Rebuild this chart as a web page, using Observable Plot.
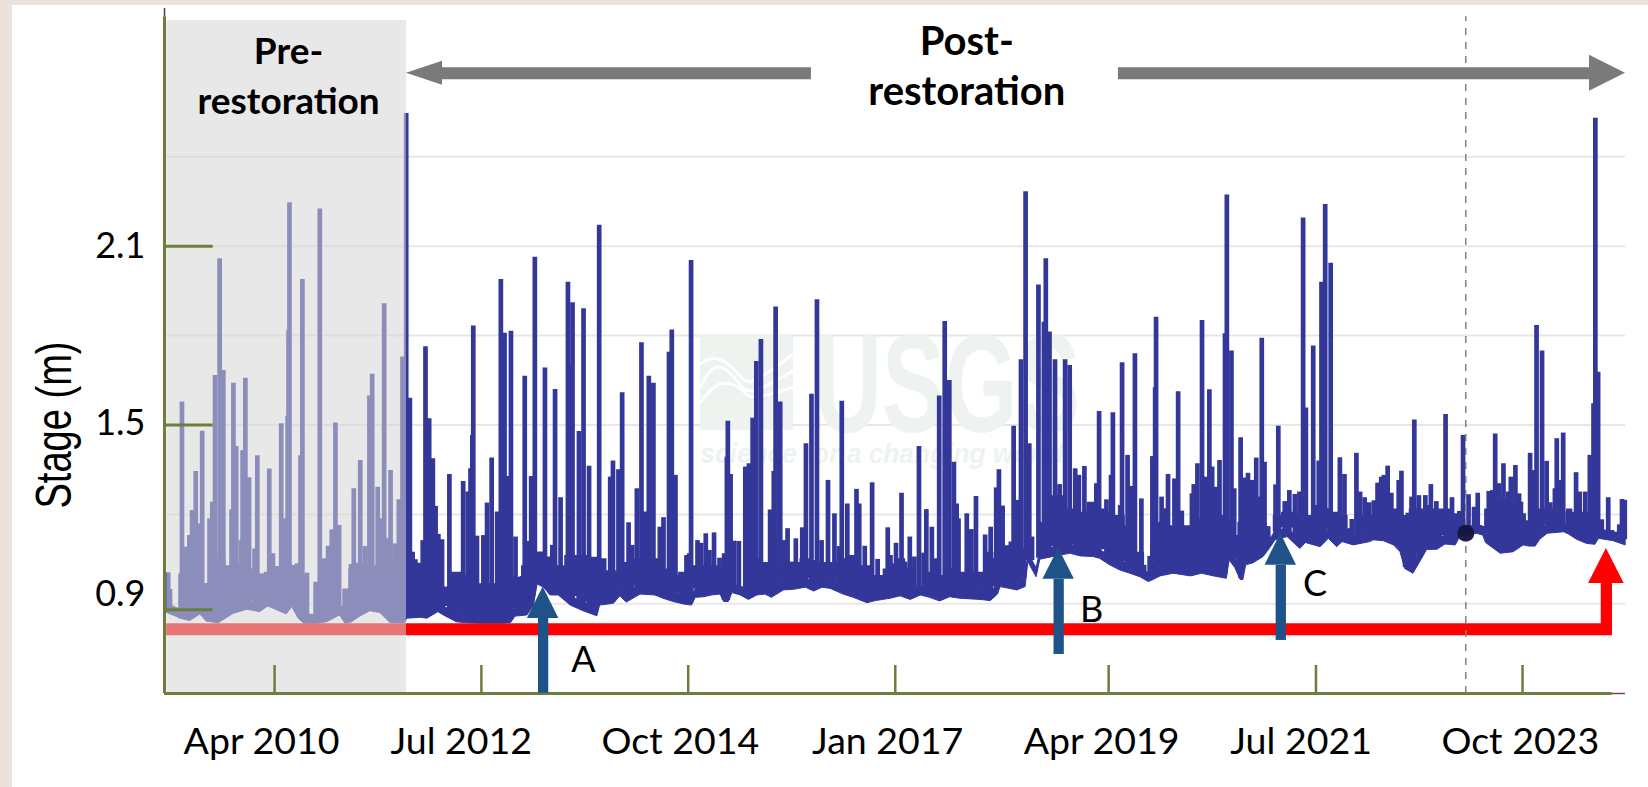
<!DOCTYPE html>
<html>
<head>
<meta charset="utf-8">
<script src="https://cdn.jsdelivr.net/npm/d3@7"></script>
<script src="https://cdn.jsdelivr.net/npm/@observablehq/plot@0.6"></script>
<style>
html,body{margin:0;padding:0;width:1648px;height:787px;overflow:hidden;background:#ebe2d9}
#panel{position:absolute;left:12px;top:5px;right:0;bottom:0;background:#fff}
#chart{position:absolute;left:0;top:0}
svg{display:block}
</style>
</head>
<body>
<div id="panel"></div>
<div id="chart"></div>
<script>
// Spike peaks: [decimal year, stage in metres]
const spikes2009 = [[2009.09,1.004],[2009.11,.948],[2009.24,1.577],[2009.28,1.090],[2009.32,1.129],[2009.35,1.213],[2009.39,1.344],[2009.43,1.168],[2009.46,1.479],[2009.50,.967],[2009.54,1.185],[2009.57,1.241],[2009.60,1.666],[2009.65,2.058],[2009.69,1.683],[2009.73,1.003],[2009.78,1.215],[2009.80,1.640],[2009.83,1.428],[2009.88,1.112],[2009.90,1.414],[2009.93,1.657],[2009.97,1.323],[2010.03,1.084],[2010.06,1.397],[2010.11,.947],[2010.15,.967],[2010.19,1.352],[2010.23,1.068],[2010.27,1.025],[2010.32,1.504],[2010.36,1.185],[2010.39,1.529],[2010.40,1.817],[2010.41,2.246],[2010.46,1.029],[2010.50,.989],[2010.53,1.397],[2010.55,1.988],[2010.60,1.003],[2010.70,.939],[2010.74,2.225],[2010.78,1.036],[2010.83,1.093],[2010.87,1.148],[2010.91,1.507],[2010.95,1.163],[2011.04,.909],[2011.08,1.032],[2011.11,1.286],[2011.15,1.036],[2011.18,1.381],[2011.23,1.092],[2011.28,1.597],[2011.31,1.670],[2011.37,1.291],[2011.40,1.185],[2011.44,1.907],[2011.47,1.120],[2011.51,1.347],[2011.56,1.101],[2011.60,1.249],[2011.64,1.728]];
const spikes2011 = [[2011.68,2.545],[2011.72,1.590],[2011.75,1.073],[2011.78,1.048],[2011.82,1.036],[2011.86,1.112],[2011.89,1.763],[2011.93,1.521],[2011.97,1.387],[2012.00,1.227],[2012.03,1.133],[2012.07,1.115],[2012.15,1.334],[2012.20,.989],[2012.24,.995],[2012.30,1.310],[2012.35,1.275],[2012.38,1.353],[2012.40,1.465],[2012.41,1.832],[2012.45,1.127],[2012.49,.920],[2012.52,1.129],[2012.56,1.238],[2012.61,1.389],[2012.67,1.208],[2012.71,1.988],[2012.75,1.808],[2012.79,1.327],[2012.82,1.815],[2012.87,1.124],[2012.91,.942],[2012.94,.992],[2012.97,1.664],[2013.00,1.109],[2013.04,1.327],[2013.08,2.063],[2013.12,1.073],[2013.15,1.073],[2013.19,1.691],[2013.23,1.057],[2013.27,1.096],[2013.30,1.619],[2013.36,1.256],[2013.40,1.017],[2013.44,1.979],[2013.48,1.700],[2013.49,1.910],[2013.56,1.478],[2013.61,1.890],[2013.67,1.362],[2013.72,1.054],[2013.78,2.170],[2013.82,1.006],[2013.84,.998],[2013.87,.961],[2013.90,1.325],[2013.93,1.379],[2013.99,1.350],[2014.03,1.608],[2014.10,1.172],[2014.14,1.096],[2014.19,1.286],[2014.24,1.776],[2014.28,1.208],[2014.32,1.664]];
const spikes2014 = [[2014.37,1.640],[2014.40,1.012],[2014.44,1.157],[2014.48,1.189],[2014.52,.984],[2014.54,1.744],[2014.57,1.819],[2014.61,1.331],[2014.69,.976],[2014.73,1.062],[2014.76,1.068],[2014.78,2.052],[2014.85,1.112],[2014.89,1.103],[2014.94,1.135],[2014.98,1.079],[2015.03,1.138],[2015.09,1.053],[2015.14,1.068],[2015.17,1.392],[2015.18,1.513],[2015.21,1.334],[2015.25,1.110],[2015.30,1.109],[2015.37,1.359],[2015.41,1.370],[2015.45,1.523],[2015.49,1.713],[2015.54,1.787],[2015.59,1.032],[2015.64,1.215],[2015.68,1.344],[2015.70,1.896],[2015.75,1.577],[2015.79,1.112],[2015.83,1.152],[2015.87,1.040],[2015.92,1.118],[2015.95,1.034],[2015.99,1.155],[2016.03,1.437],[2016.09,1.603],[2016.15,1.920],[2016.20,1.112],[2016.27,1.314],[2016.31,1.023],[2016.34,1.202],[2016.39,1.092],[2016.42,1.580],[2016.48,1.235],[2016.53,1.040],[2016.58,1.284],[2016.61,1.235],[2016.63,.989],[2016.67,1.093],[2016.71,1.014],[2016.75,1.306],[2016.81,1.049],[2016.85,.989],[2016.88,.973],[2016.92,1.155]];
const spikes2017 = [[2016.95,1.062],[2016.97,1.034],[2017.01,1.103],[2017.07,1.271],[2017.11,1.040],[2017.16,1.124],[2017.21,1.057],[2017.26,1.428],[2017.31,1.070],[2017.34,1.216],[2017.40,1.157],[2017.44,1.051],[2017.48,1.597],[2017.54,1.847],[2017.59,1.649],[2017.64,1.375],[2017.67,1.235],[2017.69,1.185],[2017.78,1.202],[2017.83,1.149],[2017.88,1.260],[2017.98,1.131],[2018.04,1.157],[2018.10,1.289],[2018.13,1.350],[2018.17,1.228],[2018.22,1.048],[2018.29,1.496],[2018.33,1.247],[2018.37,1.719],[2018.42,2.283],[2018.46,1.437],[2018.49,1.124],[2018.56,1.970],[2018.62,1.845],[2018.64,2.058],[2018.68,1.812],[2018.74,1.719],[2018.79,1.300],[2018.85,1.719],[2018.90,1.700],[2018.96,1.353],[2019.00,1.331],[2019.06,1.361],[2019.11,1.221],[2019.15,1.230],[2019.19,1.303],[2019.22,1.545],[2019.30,1.249],[2019.35,1.331],[2019.37,1.541],[2019.42,1.155],[2019.45,1.230],[2019.47,1.709],[2019.53,1.398]];
const spikes2019 = [[2019.57,1.294],[2019.61,1.739],[2019.64,1.051],[2019.68,1.252],[2019.71,1.029],[2019.77,1.059],[2019.80,1.394],[2019.83,1.625],[2019.84,1.862],[2019.90,1.258],[2019.94,1.219],[2019.97,1.334],[2020.00,1.129],[2020.04,1.319],[2020.08,1.612],[2020.12,1.211],[2020.15,1.129],[2020.19,1.099],[2020.23,1.269],[2020.25,1.300],[2020.29,1.370],[2020.34,1.851],[2020.38,1.325],[2020.42,1.618],[2020.45,1.359],[2020.49,1.291],[2020.53,1.381],[2020.59,1.806],[2020.61,2.272],[2020.66,1.748],[2020.69,1.286],[2020.73,1.079],[2020.76,1.457],[2020.80,1.322],[2020.84,1.338],[2020.88,1.314],[2020.93,1.389],[2020.96,1.258],[2020.99,1.791],[2021.02,1.375],[2021.06,1.159],[2021.14,1.299],[2021.17,1.496],[2021.24,1.243],[2021.29,1.280],[2021.35,1.267],[2021.40,1.275],[2021.44,2.195],[2021.47,1.557],[2021.51,1.163],[2021.55,1.765],[2021.58,1.230],[2021.61,1.379],[2021.64,1.979],[2021.68,2.240],[2021.74,2.043],[2021.79,1.183],[2021.84,1.390],[2021.89,1.334],[2021.93,1.152],[2021.97,1.183],[2022.02,1.405],[2022.06,1.275],[2022.11,1.256],[2022.16,1.239]];
const spikes2022 = [[2022.21,1.196],[2022.25,1.305],[2022.29,1.325],[2022.32,1.331],[2022.36,1.362],[2022.40,1.271],[2022.44,1.208],[2022.48,1.314],[2022.51,1.345],[2022.55,1.196],[2022.58,1.204],[2022.62,1.258],[2022.65,1.517],[2022.70,1.263],[2022.77,1.263],[2022.83,1.300],[2022.89,1.243],[2022.93,1.182],[2022.99,1.535],[2023.06,1.256],[2023.14,1.210],[2023.18,1.465],[2023.24,1.266],[2023.30,1.224],[2023.34,1.271],[2023.46,1.277],[2023.50,1.280],[2023.53,1.470],[2023.57,1.303],[2023.62,1.370],[2023.67,1.275],[2023.70,1.325],[2023.75,1.364],[2023.79,1.269],[2023.81,1.241],[2023.86,1.152],[2023.91,1.405],[2023.94,1.347],[2023.98,1.834],[2024.04,1.748],[2024.09,1.378],[2024.13,1.239],[2024.18,1.286],[2024.20,1.454],[2024.24,1.314],[2024.27,1.473],[2024.32,1.208],[2024.36,1.202],[2024.41,1.340],[2024.45,1.275],[2024.51,1.275],[2024.56,1.398],[2024.60,1.571],[2024.62,2.529],[2024.65,1.677],[2024.69,1.182],[2024.76,1.256],[2024.80,1.146],[2024.88,1.165],[2024.91,1.250],[2024.94,1.247]];

// The dense daily band under the spikes: [decimal year, lowest stage, top of solid band]
const band2009 = [[2009.06,.872,.900],[2009.19,.855,.869],[2009.22,.850,.950],[2009.33,.842,.967],[2009.44,.864,.967],[2009.51,.840,.917],[2009.64,.835,1.001],[2009.80,.866,.978],[2009.95,.880,.967],[2010.09,.872,.950],[2010.18,.891,.956],[2010.38,.864,.967],[2010.44,.889,.978],[2010.51,.850,.984],[2010.57,.833,.945],[2010.64,.833,.850],[2010.71,.833,.922],[2010.82,.838,1.001],[2010.96,.861,.872],[2011.02,.833,.900],[2011.09,.838,.967],[2011.18,.857,.978],[2011.29,.875,.978],[2011.40,.869,.978],[2011.51,.835,.978],[2011.67,.835,.978]];
const band2011 = [[2011.69,.850,.945],[2011.84,.853,.956],[2011.91,.850,.956],[2012.03,.872,.956],[2012.09,.861,.906],[2012.23,.838,.956],[2012.34,.835,.945],[2012.49,.833,.917],[2012.71,.833,.917],[2012.82,.835,.928],[2012.87,.857,.939],[2013.00,.861,.978],[2013.07,.894,.989],[2013.11,.965,1.023],[2013.18,.954,1.023],[2013.25,.928,1.001],[2013.34,.928,.978],[2013.47,.894,1.012],[2013.61,.875,1.012],[2013.76,.858,1.006],[2013.79,.894,1.001],[2013.94,.900,.961],[2014.01,.925,.956],[2014.08,.904,.989],[2014.23,.931,1.001]];
const band2014 = [[2014.39,.928,1.001],[2014.48,.917,.967],[2014.59,.906,.945],[2014.70,.898,.956],[2014.79,.894,.978],[2014.83,.920,.978],[2014.92,.922,.978],[2015.01,.928,.978],[2015.10,.931,.978],[2015.14,.906,.945],[2015.19,.906,.945],[2015.23,.936,.956],[2015.32,.928,.956],[2015.41,.913,.978],[2015.50,.928,1.001],[2015.59,.931,.989],[2015.66,.920,.950],[2015.79,.945,.978],[2015.90,.947,.989],[2016.03,.954,1.001],[2016.12,.941,.995],[2016.21,.954,.989],[2016.30,.950,.989],[2016.44,.931,1.001],[2016.55,.920,1.012],[2016.70,.902,.978],[2016.79,.909,.945]];
const band2017 = [[2016.95,.917,.967],[2017.06,.925,1.001],[2017.17,.913,.967],[2017.28,.928,.956],[2017.38,.920,.956],[2017.49,.908,.945],[2017.60,.922,.967],[2017.71,.917,.956],[2017.93,.913,.956],[2018.04,.909,1.023],[2018.11,.928,1.001],[2018.15,.956,1.045],[2018.33,.945,1.057],[2018.42,.956,1.034],[2018.45,1.040,1.057],[2018.54,.989,1.012],[2018.58,1.048,1.124],[2018.80,1.062,1.213],[2018.91,1.068,1.168],[2019.02,1.059,1.157],[2019.16,1.057,1.191],[2019.23,1.051,1.168],[2019.34,1.029,1.157],[2019.45,1.012,1.146]];
const band2019 = [[2019.56,1.001,1.112],[2019.67,.989,1.023],[2019.76,.973,1.001],[2019.80,.978,1.045],[2019.89,.992,1.124],[2020.03,1.001,1.112],[2020.22,.992,1.112],[2020.34,1.001,1.135],[2020.47,.992,1.146],[2020.61,.984,1.146],[2020.64,1.045,1.124],[2020.70,1.021,1.079],[2020.76,.980,1.124],[2020.79,.980,1.124],[2020.82,1.029,1.124],[2020.90,1.036,1.124],[2021.01,1.057,1.124],[2021.09,1.090,1.107],[2021.14,1.113,1.146],[2021.27,1.124,1.157],[2021.41,1.084,1.146],[2021.47,1.104,1.146],[2021.63,1.090,1.157],[2021.72,1.118,1.169],[2021.81,1.090,1.157],[2021.87,1.107,1.146],[2021.99,1.096,1.124],[2022.17,1.107,1.146]];
const band2022 = [[2022.21,1.113,1.196],[2022.32,1.110,1.180],[2022.43,1.096,1.168],[2022.50,1.073,1.168],[2022.55,1.017,1.146],[2022.64,1.001,1.168],[2022.72,1.043,1.168],[2022.79,1.081,1.180],[2022.90,1.081,1.168],[2022.99,1.099,1.168],[2023.10,1.096,1.152],[2023.15,1.124,1.152],[2023.26,1.129,1.146],[2023.33,1.135,1.168],[2023.40,1.129,1.135],[2023.43,1.104,1.168],[2023.59,1.068,1.202],[2023.73,1.073,1.191],[2023.84,1.096,1.152],[2023.90,1.092,1.129],[2023.97,1.092,1.168],[2024.02,1.115,1.168],[2024.10,1.135,1.168],[2024.28,1.140,1.168],[2024.33,1.133,1.168],[2024.42,1.115,1.157],[2024.53,1.101,1.157],[2024.62,1.098,1.168],[2024.66,1.118,1.146],[2024.82,1.110,1.129],[2024.95,1.096,1.124]];

// Axis content
const gridStages = [2.4, 2.1, 1.8, 1.5, 1.2, 0.9];
const yTickStages = [2.1, 1.5, 0.88];
const yTickLabels = ["2.1", "1.5", "0.9"];
const yLabelStages = [2.1, 1.505, 0.93];
const xTickDates = ["2010-04-01","2012-07-01","2014-10-01","2017-01-01","2019-04-29","2021-07-31","2023-10-30"];
const xTickLabels = ["Apr 2010","Jul 2012","Oct 2014","Jan 2017","Apr 2019","Jul 2021","Oct 2023"];
const xLabelDates = ["2010-02-08","2012-04-12","2014-08-31","2016-12-02","2019-04-01","2021-06-02","2023-10-21"];

// Annotated events: arrows A, B, C and the red period arrow
const eventNames = ["A", "B", "C"];
const eventYears = [2013.17, 2018.78, 2021.197];
const eventTips = [.956, 1.086, 1.136];
const eventBacks = [.851, .982, 1.029];
const eventFeet = [.6, .73, .777];
const eventLabelYears = [2013.61, 2019.14, 2021.57];
const eventLabelStages = [.71, .878, .965];

const preStart = 2009.075, restoration = 2011.683, recordEnd = 2024.948, axisEnd = 2024.805;
const floorStage = .599, topStage = 2.9245, shadeTop = 2.857, axisTop = 2.87;
const redStage = .8148, redArrowYear = 2024.74, redTip = 1.0855, redBack = .968;
const greyStage = 2.68, dashYear = 2023.21, dotStage = 1.137;
const solidLift = .05;

const toDate = y => new Date(Date.UTC(2000, 0, 1) + (y - 2000) * 365.25 * 864e5);
const date = s => new Date(s + "T00:00:00Z");

const spikes = [...spikes2009, ...spikes2011, ...spikes2014, ...spikes2017, ...spikes2019, ...spikes2022];
const band = [...band2009, ...band2011, ...band2014, ...band2017, ...band2019, ...band2022];
const bandYears = band.map(d => d[0]);
// each spike rises from the band's lower edge
const bottomOf = y => {
  const i = Math.min(d3.bisectRight(bandYears, y), band.length - 1);
  return Math.max(band[Math.max(i - 1, 0)][1], band[i][1]) + 0.005;
};
const spikeRows = spikes.map(([y, s]) => ({x: toDate(y), y1: bottomOf(y), y2: s}));
const bandRows = band.map(([y, lo, hi]) => ({x: toDate(y), lo, hi, rim: lo + .03, top: hi - lo < .03 ? hi : hi + solidLift}));

const navy = "#33379a", olive = "#6b7f3c", blue = "#1f5288", grey = "#7a7a7a", red = "#ff0000";

// triangular arrowhead built in data space
const headUp = (year, back, tip, halfYears) => [
  {x: toDate(year - halfYears), y1: back, y2: back},
  {x: toDate(year), y1: back, y2: tip},
  {x: toDate(year + halfYears), y1: back, y2: back}
];
const headSide = (backYear, tipYear, stage, half) => [
  {x: toDate(backYear), y1: stage - half, y2: stage + half},
  {x: toDate(tipYear), y1: stage, y2: stage}
];
const head = (rows, fill) => Plot.areaY(rows, {x: "x", y1: "y1", y2: "y2", fill, curve: "linear"});
const note = (text, year, stage, opts) => Plot.text([{x: toDate(year), y: stage, t: text}], {x: "x", y: "y", text: "t", ...opts});

const logoWaves = [
  [[2014.88,1.705],[2015.06,1.722],[2015.28,1.677],[2015.46,1.649],[2015.90,1.739]],
  [[2014.88,1.627],[2015.06,1.694],[2015.28,1.649],[2015.46,1.616],[2015.90,1.683]],
  [[2014.88,1.577],[2015.10,1.638],[2015.32,1.621],[2015.48,1.593],[2015.89,1.627]]
];

const chart = Plot.plot({
  width: 1648, height: 787,
  marginLeft: 164, marginRight: 23, marginTop: 0, marginBottom: 94,
  style: {background: "transparent", fontFamily: "Lato, sans-serif", color: "#000"},
  x: {type: "utc", domain: [toDate(2009.05), toDate(recordEnd)], axis: null},
  y: {domain: [floorStage, topStage], axis: null},
  marks: [
    // gridlines
    Plot.ruleY(gridStages, {x1: toDate(preStart), x2: toDate(recordEnd), stroke: "#e7e7e7", strokeWidth: 2}),
    // USGS watermark
    Plot.rect([{x1: toDate(2014.88), x2: toDate(2015.894), y1: 1.482, y2: 1.804}], {x1: "x1", x2: "x2", y1: "y1", y2: "y2", fill: "#eef3f0"}),
    ...logoWaves.map(w => Plot.line(w.map(([y, s]) => ({x: toDate(y), y: s})), {x: "x", y: "y", stroke: "#fff", strokeWidth: 3, curve: "natural"})),
    note("USGS", 2016.12, 1.475, {fill: "#eef3f0", fontSize: 139, fontWeight: 700, textAnchor: "start", lineAnchor: "bottom", fontFamily: "'Liberation Sans Narrow','Liberation Sans',sans-serif"}),
    note("science for a changing world", 2014.88, 1.374, {fill: "#eef3f0", fontSize: 27, fontWeight: 700, fontStyle: "italic", textAnchor: "start", lineAnchor: "bottom", fontFamily: "'Liberation Sans',sans-serif"}),
    // stage record: smooth lower edge, stepped solid mass, spikes
    Plot.areaY(bandRows, {x: "x", y1: "lo", y2: "rim", fill: navy, stroke: navy, strokeWidth: 1}),
    Plot.areaY(bandRows, {x: "x", y1: "rim", y2: "top", fill: navy, curve: "step"}),
    Plot.ruleX(spikeRows, {x: "x", y1: "y1", y2: "y2", stroke: navy, strokeWidth: 4.7}),
    // red period arrow
    Plot.ruleY([redStage], {x1: toDate(preStart), x2: toDate(axisEnd), stroke: red, strokeWidth: 12}),
    Plot.ruleX([toDate(redArrowYear)], {y1: redStage - .02, y2: redBack, stroke: red, strokeWidth: 11.3}),
    head(headUp(redArrowYear, redBack, redTip, .194), red),
    // pre-restoration shade sits over the record and the red arrow
    Plot.rect([{x1: toDate(preStart), x2: toDate(restoration), y1: floorStage, y2: shadeTop}], {x1: "x1", x2: "x2", y1: "y1", y2: "y2", fill: "rgb(213,213,213)", fillOpacity: .55}),
    // axes
    Plot.ruleY([floorStage], {x1: toDate(axisEnd), x2: toDate(recordEnd), stroke: "#8a3f3f", strokeWidth: 1.5}),
    Plot.ruleY([floorStage], {x1: toDate(2009.05), x2: toDate(axisEnd), stroke: olive, strokeWidth: 3}),
    Plot.ruleX([toDate(2009.05)], {y1: axisTop, y2: 2.898, stroke: "#444", strokeWidth: 1.5}),
    Plot.ruleX([toDate(2009.05)], {y1: floorStage, y2: axisTop, stroke: olive, strokeWidth: 3}),
    Plot.ruleY(yTickStages, {x1: toDate(2009.05), x2: toDate(2009.58), stroke: olive, strokeWidth: 3}),
    Plot.ruleX(xTickDates.map(date), {y1: floorStage, y2: .693, stroke: olive, strokeWidth: 2.5}),
    Plot.text(yTickLabels, {y: (d, i) => yLabelStages[i], text: d => d, frameAnchor: "left", dx: -19, textAnchor: "end", fontSize: 36, fill: "#000"}),
    Plot.text(xTickLabels, {x: (d, i) => date(xLabelDates[i]), text: d => d, frameAnchor: "bottom", dy: 48, lineAnchor: "middle", fontSize: 37.5, fill: "#000"}),
    note("Stage (m)", 2009.05, 1.5, {dx: -110, rotate: -90, fontSize: 50, fontFamily: "'Liberation Sans',sans-serif", fill: "#000"}),
    // dashed marker
    Plot.ruleX([toDate(dashYear)], {y1: floorStage, y2: axisTop, stroke: "#808080", strokeWidth: 1.5, strokeDasharray: "7 7"}),
    Plot.dot([{x: toDate(dashYear), y: dotStage}], {x: "x", y: "y", r: 8.5, fill: "#14143c", fillOpacity: .95}),
    // pre / post labels with grey arrows
    Plot.ruleY([greyStage], {x1: toDate(2012.075), x2: toDate(2016.09), stroke: grey, strokeWidth: 12}),
    head(headSide(2012.075, restoration, greyStage, .0403), grey),
    Plot.ruleY([greyStage], {x1: toDate(2019.43), x2: toDate(2024.556), stroke: grey, strokeWidth: 12}),
    head(headSide(2024.556, recordEnd, greyStage, .0604), grey),
    note("Pre-\nrestoration", 2010.40, 2.68, {fontSize: 37, fontWeight: 700, lineHeight: 1.35, fill: "#000"}),
    note("Post-\nrestoration", 2017.78, 2.71, {fontSize: 40, fontWeight: 700, lineHeight: 1.25, fill: "#000"}),
    // event arrows
    ...eventNames.flatMap((n, i) => [
      Plot.ruleX([toDate(eventYears[i])], {y1: eventFeet[i], y2: eventBacks[i], stroke: blue, strokeWidth: 10.3}),
      head(headUp(eventYears[i], eventBacks[i], eventTips[i], .171), blue),
      note(n, eventLabelYears[i], eventLabelStages[i], {fontSize: 36, fill: "#000"})
    ])
  ]
});

// fit the widths of the stretched words
const fitted = {"USGS": 266, "science for a changing world": 363, "Stage (m)": 167};
for (const t of chart.querySelectorAll("text")) {
  if (fitted[t.textContent]) { t.setAttribute("textLength", fitted[t.textContent]); t.setAttribute("lengthAdjust", "spacingAndGlyphs"); }
}
document.getElementById("chart").append(chart);
</script>
</body>
</html>
